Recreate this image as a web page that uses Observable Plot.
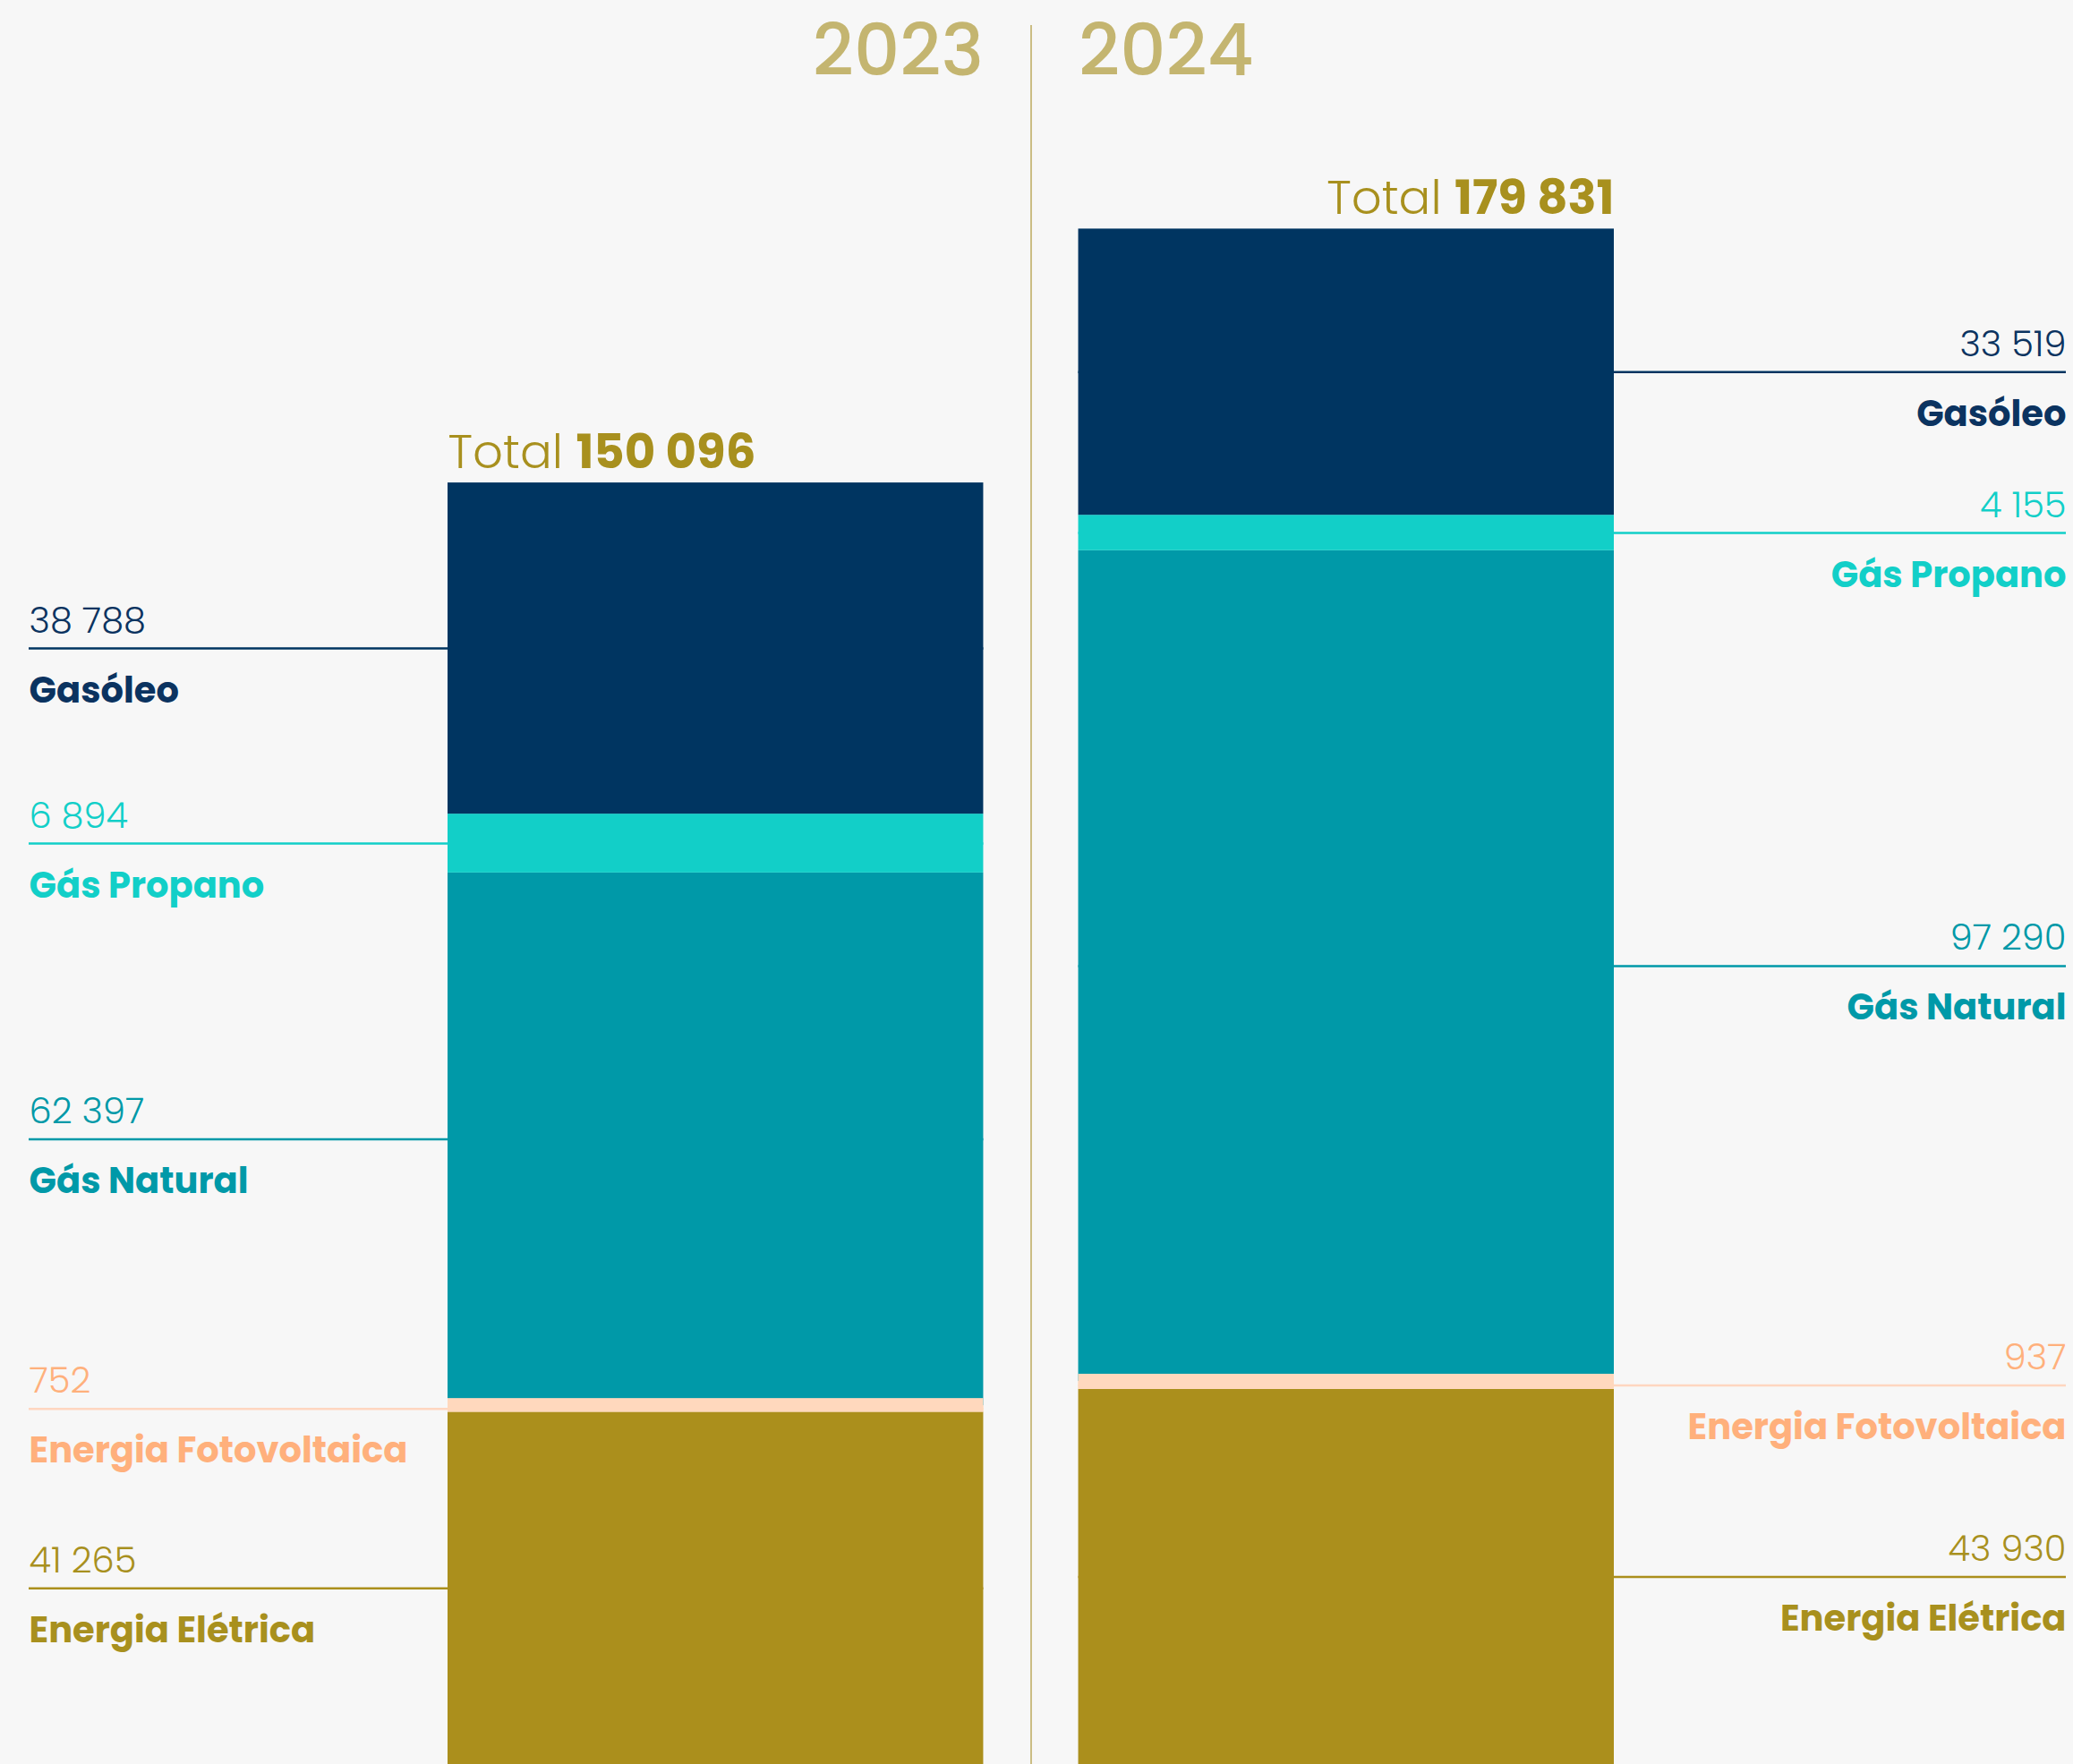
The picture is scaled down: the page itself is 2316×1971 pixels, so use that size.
<!DOCTYPE html>
<html>
<head>
<meta charset="utf-8">
<script src="https://cdn.jsdelivr.net/npm/d3@7"></script>
<script src="https://cdn.jsdelivr.net/npm/@observablehq/plot@0.6"></script>
<style>
html, body { margin: 0; padding: 0; background: #f7f7f7; }
#chart svg { display: block; }
</style>
</head>
<body>
<div id="chart"></div>
<script>
// ---- data ----
const years = ["2023", "2024"];
const sources = ["Energia Elétrica", "Energia Fotovoltaica", "Gás Natural", "Gás Propano", "Gasóleo"];
const values2023 = [41265, 752, 62397, 6894, 38788];
const values2024 = [43930, 937, 97290, 4155, 33519];

// ---- styles ----
const barColors   = ["#ab8f1c", "#ffd8bd", "#0099a8", "#12cfc8", "#003561"];
const labelColors = ["#a8901e", "#ffb07c", "#0099a8", "#12cfc8", "#0b3360"];
const lineColors  = ["#ab8f1c", "#ffd6c0", "#0099a8", "#12cfc8", "#003561"];
const yearColor = "#c4b570";
const totalColor = "#a8901e";
const FONT = "Poppins, Inter, 'Noto Sans', sans-serif";

const rows = [];
years.forEach((year, yi) => {
  const vals = yi === 0 ? values2023 : values2024;
  sources.forEach((source, si) => rows.push({year, source, value: vals[si]}));
});
const rows23 = rows.filter(d => d.year === "2023");
const rows24 = rows.filter(d => d.year === "2024");
const idx = s => sources.indexOf(s);

const fmt = d3.formatLocale({decimal: ",", thousands: " ", grouping: [3], currency: ["", "€"]}).format(",d");

// ---- layout ----
const W = 2316, H = 1971;
const xRange = [500, 1803];
const padInner = 0.1506;
const band = d3.scaleBand().domain(years).range(xRange).paddingInner(padInner).paddingOuter(0);
const bw = band.bandwidth();
const gap = band.step() - bw;

const RuleYCls = Plot.RuleY;

function leader(data, side) {
  const base = {y: "value", stroke: d => lineColors[idx(d.source)], strokeWidth: 2.5};
  if (RuleYCls) {
    const opts = side === "left" ? {...base, x2: "year"} : {...base, x1: "year"};
    return new RuleYCls(data, Plot.stackY(opts));
  }
  const opts = side === "left"
    ? {...base, x1: "year", x2: "year", insetLeft: -(band("2023") - 32)}
    : {...base, x1: "year", x2: "year", insetRight: -(W - 8 - band("2024") - bw)};
  return Plot.ruleY(data, Plot.stackY(opts));
}

function labels(data, side) {
  const anchor = side === "left" ? {frameAnchor: "left", textAnchor: "start"} : {frameAnchor: "right", textAnchor: "end"};
  return [
    Plot.text(data, Plot.stackY({
      y: "value", text: d => fmt(d.value), ...anchor, lineAnchor: "bottom", dy: -18,
      fill: d => labelColors[idx(d.source)], fontSize: 40, fontWeight: 300
    })),
    Plot.text(data, Plot.stackY({
      y: "value", text: "source", ...anchor, lineAnchor: "bottom", dy: 60,
      fill: d => labelColors[idx(d.source)], fontSize: 40, fontWeight: 700
    }))
  ];
}

function totalMark(data, side) {
  return Plot.text(data, Plot.groupX(
    {y: "sum", text: v => "Total " + fmt(d3.sum(v))},
    {x: "year", y: "value", text: "value",
     textAnchor: side === "left" ? "start" : "end",
     dx: side === "left" ? -bw / 2 : bw / 2,
     dy: -17, lineAnchor: "bottom", fill: totalColor, fontSize: 53}
  ));
}

const chart = Plot.plot({
  width: W,
  height: H,
  marginTop: 28,
  marginLeft: 32,
  marginRight: 8,
  marginBottom: 0,
  style: {fontFamily: FONT, background: "#f7f7f7"},
  x: {type: "band", domain: years, range: xRange, paddingInner: padInner, paddingOuter: 0, round: false, axis: null},
  y: {domain: [0, 200000], range: [H, 63], axis: null},
  color: {domain: sources, range: barColors},
  marks: [
    Plot.ruleX(["2024"], {x: d => d, dx: -(bw + gap) / 2, stroke: "#cbbd84", strokeWidth: 2}),
    leader(rows23, "left"),
    leader(rows24, "right"),
    Plot.barY(rows, {x: "year", y: "value", fill: "source"}),
    // the thin photovoltaic layer is drawn with a minimum visible thickness, as in the original
    Plot.barY(rows, Plot.filter(d => d.source === "Energia Fotovoltaica",
      Plot.stackY({x: "year", y: "value", fill: "source", insetTop: -8}))),
    ...labels(rows23, "left"),
    ...labels(rows24, "right"),
    totalMark(rows23, "left"),
    totalMark(rows24, "right"),
    Plot.text(["2023"], {x: d => d, text: d => d, frameAnchor: "top", textAnchor: "end", dx: bw / 2,
      lineAnchor: "bottom", dy: 83 - 28, fill: yearColor, fontSize: 80, fontWeight: 500}),
    Plot.text(["2024"], {x: d => d, text: d => d, frameAnchor: "top", textAnchor: "start", dx: -bw / 2,
      lineAnchor: "bottom", dy: 83 - 28, fill: yearColor, fontSize: 80, fontWeight: 500})
  ]
});

document.getElementById("chart").appendChild(chart);

// mixed weights for totals: "Total" light + number bold
d3.select(chart).selectAll("text").each(function () {
  const t = this.textContent;
  const m = t.match(/^(Total)\s(.*)$/);
  if (!m) return;
  const sel = d3.select(this);
  sel.text(null);
  sel.append("tspan").attr("font-weight", 300).text(m[1] + " ");
  sel.append("tspan").attr("font-weight", 700).text(m[2]);
});
</script>
</body>
</html>
